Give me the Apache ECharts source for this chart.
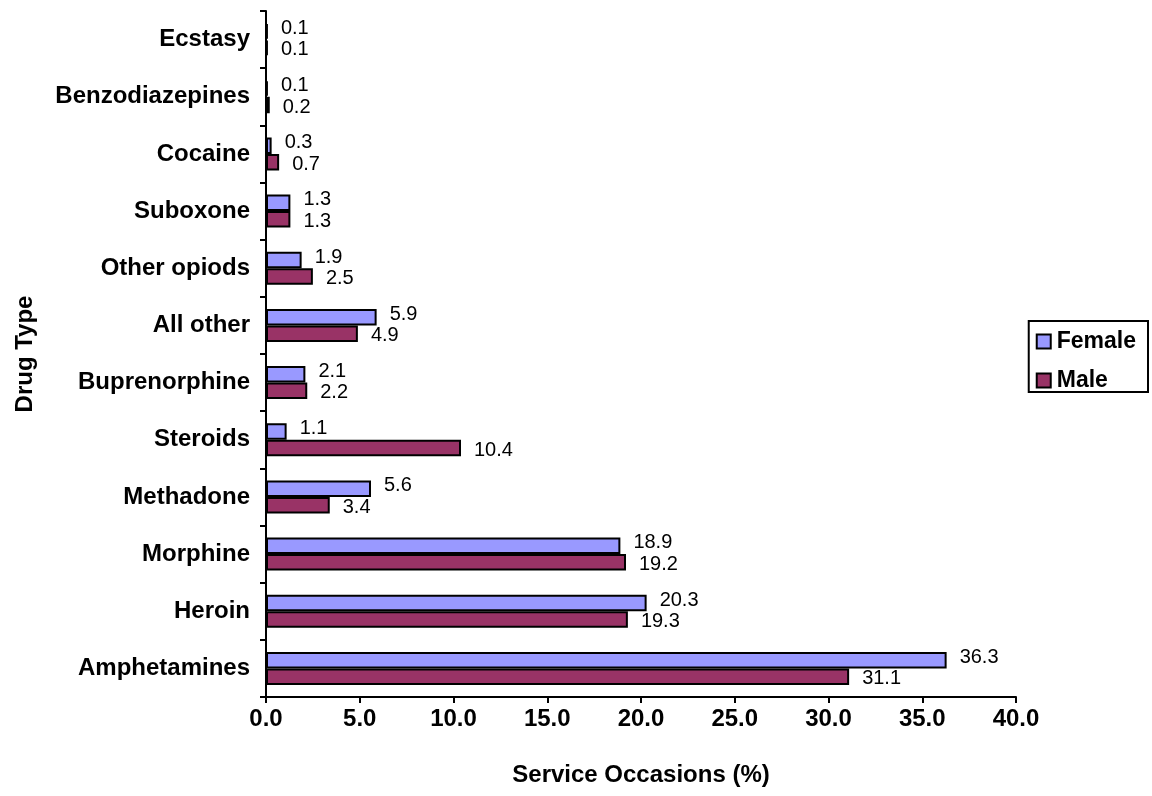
<!DOCTYPE html>
<html>
<head>
<meta charset="utf-8">
<script src="https://cdn.jsdelivr.net/npm/echarts@6/dist/echarts.min.js"></script>
<style>html,body{margin:0;padding:0;background:#fff}#c{width:1152px;height:796px}</style>
</head>
<body>
<div id="c"></div>
<script>
const categories = ['Amphetamines','Heroin','Morphine','Methadone','Steroids','Buprenorphine','All other','Other opiods','Suboxone','Cocaine','Benzodiazepines','Ecstasy'];
const female = [36.3,20.3,18.9,5.6,1.1,2.1,5.9,1.9,1.3,0.3,0.1,0.1];
const male = [31.1,19.3,19.2,3.4,10.4,2.2,4.9,2.5,1.3,0.7,0.2,0.1];
const xTicks = {min:0, max:40, interval:5};

const FONT = '"Liberation Sans", Arial, sans-serif';
const chart = echarts.init(document.getElementById('c'));
function labelCfg(dy) {
  return {show:true, position:'right', distance:13, offset:[0,dy], color:'#000', fontSize:20, fontFamily:FONT,
    formatter: p => p.value.toFixed(1)};
}
chart.setOption({
  animation:false,
  backgroundColor:'#fff',
  grid:{left:266, right:136, top:11, bottom:99},
  legend:{
    data:['Female','Male'], orient:'vertical', right:4, top:321,
    borderColor:'#000', borderWidth:2, padding:[9,12,0,7], itemGap:16,
    icon:'rect', itemWidth:14, itemHeight:14,
    textStyle:{fontFamily:FONT, fontWeight:'bold', fontSize:23, color:'#000', padding:[0,0,0,1]}
  },
  xAxis:{
    type:'value', min:xTicks.min, max:xTicks.max, interval:xTicks.interval,
    name:'Service Occasions (%)', nameLocation:'middle', nameGap:66,
    nameTextStyle:{fontFamily:FONT, fontWeight:'bold', fontSize:24, color:'#000'},
    axisLine:{show:true, lineStyle:{color:'#000', width:2}},
    axisTick:{show:true, length:6, lineStyle:{color:'#000', width:2}},
    splitLine:{show:false},
    axisLabel:{fontFamily:FONT, fontWeight:'bold', fontSize:24, color:'#000', margin:10,
      formatter: v => v.toFixed(1)}
  },
  yAxis:{
    type:'category', data:categories,
    name:'Drug Type', nameLocation:'middle', nameGap:229, nameRotate:90,
    nameTextStyle:{fontFamily:FONT, fontWeight:'bold', fontSize:24, color:'#000'},
    axisLine:{lineStyle:{color:'#000', width:2}},
    axisTick:{show:true, length:6, lineStyle:{color:'#000', width:2}},
    axisLabel:{fontFamily:FONT, fontWeight:'bold', fontSize:24, color:'#000', margin:16}
  },
  series:[
    {name:'Female', type:'bar', data:female, barWidth:16.5, barGap:'0%',
      itemStyle:{color:'#9999FF', borderColor:'#000', borderWidth:2}, label:labelCfg(-3)},
    {name:'Male', type:'bar', data:male, barWidth:16.5, barGap:'0%',
      itemStyle:{color:'#993366', borderColor:'#000', borderWidth:2}, label:labelCfg(2)}
  ]
});
</script>
</body>
</html>
